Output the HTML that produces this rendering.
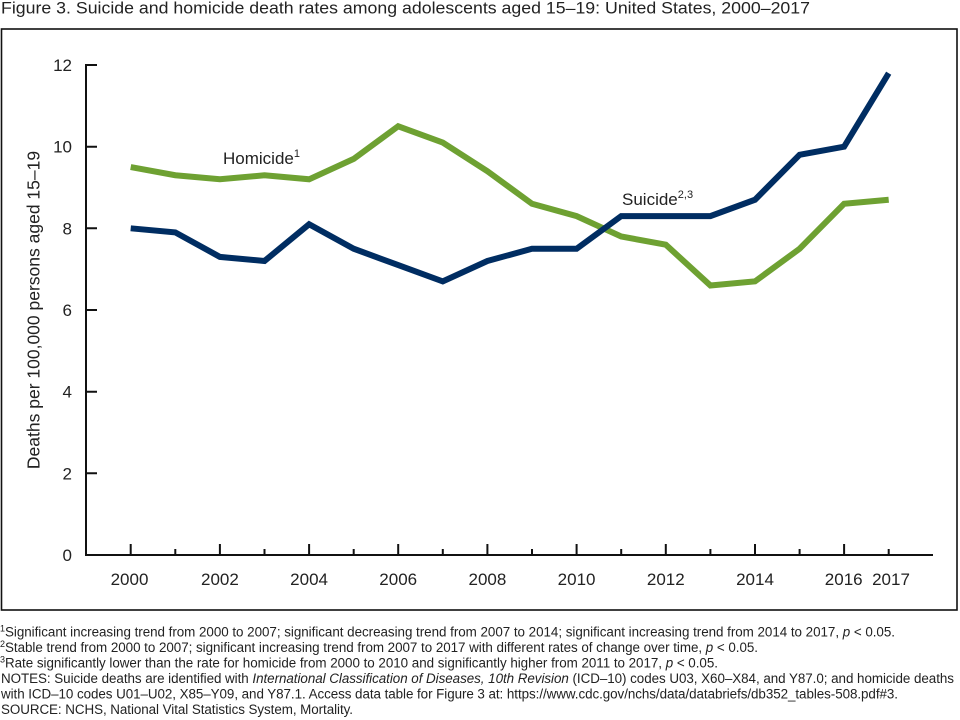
<!DOCTYPE html>
<html><head><meta charset="utf-8"><style>
html,body{margin:0;padding:0;background:#fff;}
svg{display:block;font-family:"Liberation Sans",Arial,sans-serif;}
</style></head><body>
<svg width="960" height="720" viewBox="0 0 960 720" xmlns="http://www.w3.org/2000/svg">
<rect x="0" y="0" width="960" height="720" fill="#fff"/>
<text x="1" y="13.5" font-size="16.5" fill="#222" textLength="809" lengthAdjust="spacingAndGlyphs">Figure 3. Suicide and homicide death rates among adolescents aged 15–19: United States, 2000–2017</text>
<rect x="1.5" y="29" width="955.5" height="581" fill="none" stroke="#111" stroke-width="1.6"/>

<!-- axes -->
<g stroke="#111" stroke-width="2" fill="none">
<path d="M86 64 V556 M85 555 H933"/>
<path d="M86 65 H97 M86 146.7 H97 M86 228.3 H97 M86 310 H97 M86 391.7 H97 M86 473.3 H97"/>
<path d="M130.7 555 V544 M175.3 555 V549 M219.9 555 V544 M264.5 555 V549 M309.1 555 V544 M353.7 555 V549 M398.2 555 V544 M442.8 555 V549 M487.4 555 V544 M532 555 V549 M576.6 555 V544 M621.2 555 V549 M665.8 555 V544 M710.4 555 V549 M755 555 V544 M799.6 555 V549 M844.1 555 V544 M888.7 555 V549"/>
</g>
<g font-size="17" fill="#222" text-anchor="end">
<text x="72" y="71">12</text>
<text x="72" y="152.7">10</text>
<text x="72" y="234.3">8</text>
<text x="72" y="316">6</text>
<text x="72" y="397.7">4</text>
<text x="72" y="479.3">2</text>
<text x="72" y="561">0</text>
</g>
<g font-size="17" fill="#222" text-anchor="middle">
<text x="129.5" y="585">2000</text>
<text x="219.9" y="585">2002</text>
<text x="309.1" y="585">2004</text>
<text x="398.2" y="585">2006</text>
<text x="487.4" y="585">2008</text>
<text x="576.6" y="585">2010</text>
<text x="665.8" y="585">2012</text>
<text x="755" y="585">2014</text>
<text x="843.7" y="585">2016</text>
<text x="891" y="585">2017</text>
</g>
<text transform="translate(39.5,310) rotate(-90)" font-size="17.5" fill="#222" text-anchor="middle">Deaths per 100,000 persons aged 15–19</text>

<!-- series -->
<polyline fill="none" stroke="#6ea132" stroke-width="6" stroke-linejoin="miter" stroke-linecap="butt"
points="130.7,167.1 175.3,175.25 219.9,179.3 264.5,175.25 309.1,179.3 353.7,158.9 398.2,126.25 442.8,142.6 487.4,171.2 532,203.8 576.6,216.1 621.2,236.5 665.8,244.7 710.4,285.5 755,281.4 799.6,248.75 844.1,203.8 888.7,199.75"/>
<polyline fill="none" stroke="#002d62" stroke-width="6" stroke-linejoin="miter" stroke-linecap="butt"
points="130.7,228.3 175.3,232.4 219.9,256.9 264.5,261 309.1,224.25 353.7,248.75 398.2,265.1 442.8,281.4 487.4,261 532,248.75 576.6,248.75 621.2,216.1 665.8,216.1 710.4,216.1 755,199.75 799.6,154.8 844.1,146.7 888.7,73.2"/>

<text x="223" y="164" font-size="17" fill="#222">Homicide<tspan font-size="11" dy="-7">1</tspan></text>
<text x="622" y="205" font-size="17" fill="#222">Suicide<tspan font-size="11" dy="-7">2,3</tspan></text>

<!-- footnotes -->
<g font-size="13.4" fill="#222">
<text x="0" y="636.5" textLength="895"><tspan font-size="9" dy="-5">1</tspan><tspan dy="5">Significant increasing trend from 2000 to 2007; significant decreasing trend from 2007 to 2014; significant increasing trend from 2014 to 2017, </tspan><tspan font-style="italic">p</tspan> &lt; 0.05.</text>
<text x="0" y="652" textLength="758"><tspan font-size="9" dy="-5">2</tspan><tspan dy="5">Stable trend from 2000 to 2007; significant increasing trend from 2007 to 2017 with different rates of change over time, </tspan><tspan font-style="italic">p</tspan> &lt; 0.05.</text>
<text x="0" y="667.5" textLength="718"><tspan font-size="9" dy="-5">3</tspan><tspan dy="5">Rate significantly lower than the rate for homicide from 2000 to 2010 and significantly higher from 2011 to 2017, </tspan><tspan font-style="italic">p</tspan> &lt; 0.05.</text>
<text x="1" y="683" textLength="953">NOTES: Suicide deaths are identified with <tspan font-style="italic">International Classification of Diseases, 10th Revision</tspan> (ICD–10) codes U03, X60–X84, and Y87.0; and homicide deaths</text>
<text x="1" y="698.5" textLength="897">with ICD–10 codes U01–U02, X85–Y09, and Y87.1. Access data table for Figure 3 at: https://www.cdc.gov/nchs/data/databriefs/db352_tables-508.pdf#3.</text>
<text x="1" y="714" textLength="352">SOURCE: NCHS, National Vital Statistics System, Mortality.</text>
</g>
</svg>
</body></html>
